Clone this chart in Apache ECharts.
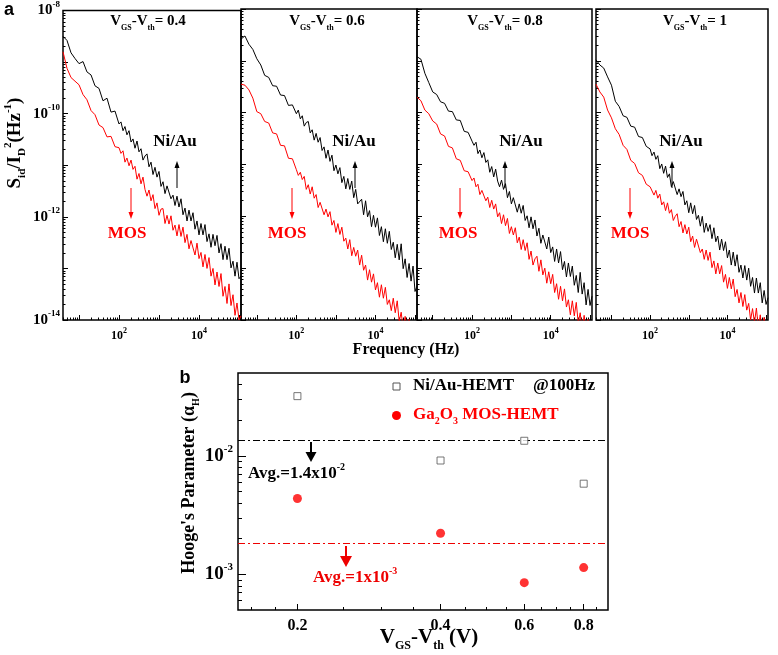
<!DOCTYPE html>
<html><head><meta charset="utf-8">
<script src="https://cdn.jsdelivr.net/npm/echarts@6/dist/echarts.min.js"></script>
<style>html,body{margin:0;padding:0;background:#fff}#c{width:778px;height:655px}</style>
</head><body><div id="c"></div>
<script>
// ---------- data ----------
const freqHz = [3.98, 5.01, 6.31, 7.94, 10, 12.6, 15.8, 20, 25.1, 31.6, 39.8, 50.1, 63.1, 79.4, 100,
  112, 126, 141, 158, 178, 200, 224, 251, 282, 316, 355, 398, 447, 501, 562, 631, 708, 794, 891, 1000,
  1122, 1259, 1413, 1585, 1778, 1995, 2239, 2512, 2818, 3162, 3548, 3981, 4467, 5012, 5623, 6310, 7079, 7943, 8913, 10000,
  11220, 12589, 14125, 15849, 17783, 19953, 22387, 25119, 28184, 31623, 35481, 39811, 44668, 50119, 56234, 63096, 70795, 79433, 89125, 100000, 112202];
const panelLabels = ['0.4', '0.6', '0.8', '1'];
// log10(S_id/I_D^2)
const niAu04 = [-8.50,-8.58,-8.82,-8.93,-9.03,-8.99,-9.19,-9.25,-9.46,-9.51,-9.75,-9.70,-9.97,-9.95,-10.20,
  -10.16,-10.33,-10.25,-10.41,-10.33,-10.55,-10.49,-10.67,-10.53,-10.74,-10.68,-10.90,-10.82,-10.78,-11.03,-10.94,-11.18,-11.04,-11.23,-11.12,
  -11.41,-11.32,-11.55,-11.40,-11.38,-11.65,-11.58,-11.78,-11.60,-11.81,-11.65,-11.96,-11.83,-12.08,-11.87,-12.08,-11.92,-12.24,-12.08,-12.35,
  -12.13,-12.35,-12.15,-12.48,-12.33,-12.59,-12.34,-12.56,-12.36,-12.70,-12.52,-12.83,-12.57,-12.83,-12.61,-12.99,-12.86,-13.15,-12.88,-13.20,-13.15];
const mos04 = [-8.80,-9.12,-9.30,-9.37,-9.44,-9.63,-9.73,-9.94,-10.02,-10.22,-10.27,-10.45,-10.44,-10.64,-10.66,
  -10.77,-10.72,-10.94,-10.86,-11.01,-10.90,-11.08,-11.02,-11.27,-11.16,-11.36,-11.23,-11.47,-11.60,-11.48,-11.69,-11.57,-11.84,-11.73,-11.97,
  -11.85,-11.84,-12.13,-11.97,-12.14,-11.98,-12.26,-12.16,-12.37,-12.15,-12.38,-12.20,-12.50,-12.34,-12.62,-12.46,-12.44,-12.74,-12.51,-12.81,
  -12.69,-12.97,-12.73,-13.00,-12.79,-13.15,-13.00,-13.32,-13.07,-13.35,-13.10,-13.54,-13.35,-13.68,-13.30,-13.72,-13.51,-13.91,-13.67,-14.00,-13.92];
const niAu06 = [-8.58,-8.52,-8.68,-8.78,-8.96,-9.08,-9.28,-9.32,-9.48,-9.49,-9.66,-9.67,-9.86,-9.85,-10.02,
  -9.95,-10.12,-10.06,-10.26,-10.19,-10.17,-10.39,-10.33,-10.53,-10.40,-10.57,-10.48,-10.73,-10.66,-10.88,-10.72,-10.94,-10.82,-11.12,-11.01,
  -11.18,-11.06,-11.35,-11.23,-11.47,-11.27,-11.48,-11.32,-11.64,-11.48,-11.76,-11.77,-11.67,-11.97,-11.70,-12.01,-11.89,-12.20,-11.98,-12.21,
  -12.03,-12.37,-12.20,-12.49,-12.24,-12.52,-12.29,-12.64,-12.50,-12.80,-12.54,-12.84,-12.53,-13.01,-12.82,-13.18,-12.91,-13.25,-12.96,-13.45,-13.34];
const mos06 = [-9.45,-9.47,-9.56,-9.72,-9.98,-10.02,-10.17,-10.20,-10.39,-10.41,-10.63,-10.64,-10.88,-10.89,-11.10,
  -11.21,-11.15,-11.29,-11.23,-11.48,-11.39,-11.57,-11.43,-11.65,-11.58,-11.83,-11.73,-11.72,-11.97,-11.86,-12.01,-11.91,-12.17,-12.08,-12.31,
  -12.14,-12.35,-12.21,-12.48,-12.42,-12.63,-12.45,-12.76,-12.60,-12.77,-12.65,-12.94,-12.75,-13.04,-12.94,-13.23,-13.03,-13.27,-13.11,-13.42,
  -13.28,-13.56,-13.32,-13.58,-13.37,-13.70,-13.61,-13.82,-13.58,-13.86,-13.63,-14.03,-13.85,-14.17,-13.93,-14.13,-13.99,-14.29,-14.12,-14.42,-14.35];
const niAu08 = [-8.92,-8.97,-9.24,-9.42,-9.60,-9.65,-9.79,-9.82,-9.97,-9.98,-10.14,-10.15,-10.36,-10.38,-10.55,
  -10.63,-10.57,-10.79,-10.72,-10.87,-10.77,-10.96,-10.91,-11.15,-11.04,-11.24,-11.09,-11.32,-11.43,-11.30,-11.48,-11.37,-11.64,-11.52,-11.76,
  -11.64,-11.63,-11.92,-11.76,-11.94,-11.79,-12.08,-11.99,-12.22,-12.01,-12.24,-12.07,-12.38,-12.23,-12.52,-12.36,-12.33,-12.63,-12.40,-12.70,
  -12.59,-12.87,-12.63,-12.90,-12.68,-13.03,-12.87,-13.17,-12.90,-13.16,-12.96,-13.33,-13.14,-13.47,-13.08,-13.50,-13.28,-13.71,-13.41,-13.72,-13.54];
const mos08 = [-9.70,-9.77,-9.95,-10.02,-10.16,-10.22,-10.41,-10.45,-10.65,-10.68,-10.89,-10.92,-11.12,-11.14,-11.31,
  -11.26,-11.43,-11.38,-11.58,-11.50,-11.48,-11.70,-11.63,-11.83,-11.69,-11.86,-11.76,-12.01,-11.93,-12.14,-11.97,-12.18,-12.04,-12.33,-12.20,
  -12.36,-12.22,-12.51,-12.40,-12.64,-12.45,-12.66,-12.51,-12.83,-12.67,-12.94,-12.82,-12.77,-13.06,-12.84,-13.13,-13.00,-13.29,-13.07,-13.30,
  -13.12,-13.47,-13.30,-13.60,-13.35,-13.63,-13.40,-13.75,-13.61,-13.90,-13.63,-13.92,-13.66,-14.06,-13.86,-14.20,-13.91,-14.22,-13.99,-14.39,-14.24];
const niAu10 = [-8.98,-9.08,-9.14,-9.31,-9.47,-9.78,-9.88,-10.06,-10.09,-10.26,-10.28,-10.46,-10.48,-10.65,-10.70,
  -10.83,-10.76,-10.90,-10.83,-11.08,-10.99,-11.17,-11.03,-11.25,-11.18,-11.43,-11.33,-11.33,-11.58,-11.47,-11.62,-11.52,-11.78,-11.70,-11.93,
  -11.74,-11.95,-11.79,-12.06,-11.98,-12.19,-12.00,-12.31,-12.13,-12.29,-12.16,-12.43,-12.22,-12.49,-12.38,-12.65,-12.44,-12.66,-12.49,-12.80,
  -12.65,-12.94,-12.69,-12.96,-12.74,-13.08,-12.94,-13.19,-12.95,-13.23,-13.00,-13.35,-13.18,-13.48,-13.19,-13.48,-13.28,-13.67,-13.43,-13.70,-13.57];
const mos10 = [-9.45,-9.60,-9.70,-9.95,-10.10,-10.31,-10.42,-10.63,-10.71,-10.92,-10.98,-11.16,-11.21,-11.38,-11.43,
  -11.44,-11.59,-11.50,-11.65,-11.57,-11.78,-11.72,-11.89,-11.74,-11.94,-11.87,-12.08,-12.00,-11.95,-12.20,-12.10,-12.32,-12.16,-12.34,-12.21,
  -12.49,-12.38,-12.60,-12.44,-12.43,-12.70,-12.63,-12.83,-12.65,-12.85,-12.69,-12.99,-12.86,-13.11,-12.90,-13.11,-12.95,-13.27,-13.12,-13.39,
  -13.18,-13.40,-13.21,-13.55,-13.41,-13.67,-13.47,-13.74,-13.51,-13.81,-13.68,-14.00,-13.78,-14.05,-13.77,-14.15,-13.90,-14.23,-13.95,-14.24,-14.14];
const niAuSpectra = [niAu04, niAu06, niAu08, niAu10];
const mosSpectra = [mos04, mos06, mos08, mos10];
const freqTickLabels = [100, 10000];
const specTickLabels = [-14, -12, -10, -8];

const vgsVth = [0.2, 0.4, 0.6, 0.8];
const hoogeNiAu = [0.0319, 0.00913, 0.0134, 0.00582];
const hoogeMos = [0.00436, 0.00222, 0.00085, 0.00114];
const avgNiAu = 0.0134;
const avgMos = 0.0018;
const vgsTickLabels = [0.2, 0.4, 0.6, 0.8];
const hoogeTickLabels = [-3, -2];

// ---------- helpers ----------
const FONT = '"Liberation Serif","DejaVu Serif",serif';
const L = Math.log10;
function minorLogs(lo, hi) {
  const out = [];
  for (let n = Math.floor(lo) - 1; n <= Math.ceil(hi); n++)
    for (let k = 2; k <= 9; k++) { const v = n + L(k); if (v > lo && v < hi) out.push(v); }
  return out;
}
function rich(size, sub, color) {
  color = color || '#000';
  return {
    b: {fontFamily: FONT, fontWeight: 'bold', fontSize: size, color, fill: color, lineHeight: size + 6, verticalAlign: 'middle'},
    s: {fontFamily: FONT, fontWeight: 'bold', fontSize: sub, color, fill: color, verticalAlign: 'top'},
    d: {fontFamily: FONT, fontWeight: 'bold', fontSize: sub, color, fill: color, verticalAlign: 'bottom'}
  };
}

const panels = [{left: 63, width: 178}, {left: 241, width: 176}, {left: 417, width: 175}, {left: 596, width: 172}];
const X0 = 0.6, X1 = 5.05, Y0 = -14, Y1 = -8;
const grids = [], xAxes = [], yAxes = [], series = [];

panels.forEach((p, i) => {
  grids.push({left: p.left, top: 9, width: p.width, height: 311, show: true, borderColor: '#000', borderWidth: 1.5, backgroundColor: 'transparent'});
  xAxes.push({type: 'value', gridIndex: i, position: 'bottom', min: X0, max: X1,
    axisLine: {show: false}, splitLine: {show: false},
    axisTick: {inside: true, length: 5, lineStyle: {color: '#000', width: 1}, customValues: [1, 2, 3, 4, 5]},
    axisLabel: {customValues: freqTickLabels.map(L), margin: 7, rich: rich(12, 8),
      formatter: v => '{b|10}{s|' + Math.round(v) + '}'}});
  xAxes.push({type: 'value', gridIndex: i, position: 'bottom', min: X0, max: X1,
    axisLine: {show: false}, splitLine: {show: false}, axisLabel: {show: false},
    axisTick: {inside: true, length: 2.5, lineStyle: {color: '#000', width: 1}, customValues: minorLogs(X0, X1)}});
  yAxes.push({type: 'value', gridIndex: i, position: 'left', min: Y0, max: Y1,
    axisLine: {show: false}, splitLine: {show: false},
    axisTick: {inside: true, length: 5, lineStyle: {color: '#000', width: 1}, customValues: [-14, -13, -12, -11, -10, -9, -8]},
    axisLabel: {show: i === 0, customValues: specTickLabels, margin: 3, rich: rich(15, 9),
      formatter: v => '{b|10}{s|' + Math.round(v) + '}'}});
  yAxes.push({type: 'value', gridIndex: i, position: 'left', min: Y0, max: Y1,
    axisLine: {show: false}, splitLine: {show: false}, axisLabel: {show: false},
    axisTick: {inside: true, length: 2.5, lineStyle: {color: '#000', width: 1}, customValues: minorLogs(Y0, Y1)}});
  series.push({type: 'line', name: 'Ni/Au ' + panelLabels[i], xAxisIndex: 2 * i, yAxisIndex: 2 * i,
    showSymbol: false, symbol: 'none', animation: false, z: 3,
    lineStyle: {color: '#000', width: 1}, data: freqHz.map((f, k) => [L(f), niAuSpectra[i][k]])});
  series.push({type: 'line', name: 'MOS ' + panelLabels[i], xAxisIndex: 2 * i, yAxisIndex: 2 * i,
    showSymbol: false, symbol: 'none', animation: false, z: 4,
    lineStyle: {color: '#f00', width: 1}, data: freqHz.map((f, k) => [L(f), mosSpectra[i][k]])});
});

// bottom panel
const BX0 = L(0.15), BX1 = L(0.9), BY0 = L(5e-4), BY1 = L(0.05);
grids.push({left: 238, top: 373, width: 370, height: 237, show: true, borderColor: '#000', borderWidth: 1.5, backgroundColor: 'transparent'});
const minorV = [0.16, 0.18, 0.25, 0.3, 0.35, 0.45, 0.5, 0.55, 0.65, 0.7, 0.75, 0.85].map(L);
xAxes.push({type: 'value', gridIndex: 4, position: 'bottom', min: BX0, max: BX1,
  axisLine: {show: false}, splitLine: {show: false},
  axisTick: {inside: true, length: 6, lineStyle: {color: '#000', width: 1}, customValues: vgsTickLabels.map(L)},
  axisLabel: {customValues: vgsTickLabels.map(L), margin: 8, fontFamily: FONT, fontWeight: 'bold', fontSize: 16, color: '#000',
    formatter: v => Math.pow(10, v).toFixed(1)}});
xAxes.push({type: 'value', gridIndex: 4, position: 'bottom', min: BX0, max: BX1,
  axisLine: {show: false}, splitLine: {show: false}, axisLabel: {show: false},
  axisTick: {inside: true, length: 3, lineStyle: {color: '#000', width: 1}, customValues: minorV}});
yAxes.push({type: 'value', gridIndex: 4, position: 'left', min: BY0, max: BY1,
  axisLine: {show: false}, splitLine: {show: false},
  axisTick: {inside: true, length: 8, lineStyle: {color: '#000', width: 1}, customValues: hoogeTickLabels},
  axisLabel: {customValues: hoogeTickLabels, margin: 5, rich: rich(19, 11),
    formatter: v => '{b|10}{s|' + Math.round(v) + '}'}});
yAxes.push({type: 'value', gridIndex: 4, position: 'left', min: BY0, max: BY1,
  axisLine: {show: false}, splitLine: {show: false}, axisLabel: {show: false},
  axisTick: {inside: true, length: 4, lineStyle: {color: '#000', width: 1}, customValues: minorLogs(BY0, BY1)}});

series.push({type: 'scatter', name: 'Ni/Au-HEMT', xAxisIndex: 8, yAxisIndex: 8, symbol: 'rect', symbolSize: 7, z: 5,
  itemStyle: {color: '#fff', borderColor: '#555', borderWidth: 1},
  data: vgsVth.map((v, i) => [L(v), L(hoogeNiAu[i])]),
  markLine: {silent: true, symbol: 'none', label: {show: false}, animation: false,
    lineStyle: {color: '#000', width: 1, type: [7, 3, 2, 3]}, data: [{yAxis: L(avgNiAu)}]}});
series.push({type: 'scatter', name: 'Ga2O3 MOS-HEMT', xAxisIndex: 8, yAxisIndex: 8, symbol: 'circle', symbolSize: 9, z: 5,
  itemStyle: {color: '#f00'},
  data: vgsVth.map((v, i) => [L(v), L(hoogeMos[i])]),
  markLine: {silent: true, symbol: 'none', label: {show: false}, animation: false,
    lineStyle: {color: '#e00', width: 1, type: [7, 3, 2, 3]}, data: [{yAxis: L(avgMos)}]}});

// ---------- annotations ----------
const g = [];
function txt(x, y, text, r, opts) {
  g.push({type: 'text', x, y, silent: true, z: 10,
    style: Object.assign({text, rich: r, align: 'center', verticalAlign: 'middle'}, opts || {})});
}
function arrow(x, y1, y2, color, w, hw, hl) {
  const dir = y2 > y1 ? 1 : -1;
  g.push({type: 'line', silent: true, z: 10, shape: {x1: x, y1, x2: x, y2: y2 - dir * hl}, style: {stroke: color, lineWidth: w}});
  g.push({type: 'polygon', silent: true, z: 10, shape: {points: [[x - hw, y2 - dir * hl], [x + hw, y2 - dir * hl], [x, y2]]}, style: {fill: color}});
}
const sans = {a: {fontFamily: 'Liberation Sans', fontWeight: 'bold', fontSize: 18, fill: '#000'}};
txt(9, 10, '{a|a}', sans);
txt(185, 378, '{a|b}', sans);
const titleX = [148, 327, 505, 695];
titleX.forEach((x, i) => txt(x, 21, '{b|V}{d|GS}{b|-V}{d|th}{b|= ' + panelLabels[i] + '}', rich(15, 8)));
const niAuPos = [[175, 177], [354, 355], [521, 505], [681, 672]];
const mosPos = [[127, 131], [287, 292], [458, 460], [630, 630]];
niAuPos.forEach(([tx, ax]) => { txt(tx, 142, '{b|Ni/Au}', rich(17, 10)); arrow(ax, 188, 161, '#000', 1, 2.5, 7); });
mosPos.forEach(([tx, ax]) => { txt(tx, 234, '{b|MOS}', rich(17, 10, '#f00')); arrow(ax, 188, 219, '#f00', 1, 2.5, 7); });
txt(406, 350, '{b|Frequency (Hz)}', rich(16, 9));
g.push({type: 'text', x: 15, y: 143, rotation: Math.PI / 2, silent: true, z: 10,
  style: {text: '{b|S}{d|id}{b|/I}{d|D}{s|2}{b|(Hz}{s|-1}{b|)}', rich: rich(19, 11), align: 'center', verticalAlign: 'middle'}});
g.push({type: 'text', x: 189, y: 483, rotation: Math.PI / 2, silent: true, z: 10,
  style: {text: "{b|Hooge's Parameter (α}{d|H}{b|)}", rich: rich(18, 10), align: 'center', verticalAlign: 'middle'}});
txt(429, 638, '{b|V}{d|GS}{b|-V}{d|th}{b| (V)}', rich(21, 12));
// legend
g.push({type: 'rect', silent: true, z: 10, shape: {x: 393, y: 383, width: 7, height: 7}, style: {fill: '#fff', stroke: '#555', lineWidth: 1}});
g.push({type: 'circle', silent: true, z: 10, shape: {cx: 396.5, cy: 415.5, r: 4.5}, style: {fill: '#f00'}});
txt(413, 386, '{b|Ni/Au-HEMT}', rich(17, 10), {align: 'left'});
txt(533, 386, '{b|@100Hz}', rich(17, 10), {align: 'left'});
txt(413, 415, '{b|Ga}{d|2}{b|O}{d|3}{b| MOS-HEMT}', rich(17, 10, '#f00'), {align: 'left'});
// average annotations
arrow(311, 442, 462, '#000', 2, 5.5, 10);
txt(248, 474, '{b|Avg.=1.4x10}{s|-2}', rich(17, 10), {align: 'left'});
arrow(346, 546, 567, '#e00', 2, 6, 11);
txt(313, 578, '{b|Avg.=1x10}{s|-3}', rich(17, 10, '#e00'), {align: 'left'});

const chart = echarts.init(document.getElementById('c'), null, {renderer: 'canvas'});
chart.setOption({animation: false, backgroundColor: '#fff', grid: grids, xAxis: xAxes, yAxis: yAxes, series, graphic: g});
</script></body></html>
